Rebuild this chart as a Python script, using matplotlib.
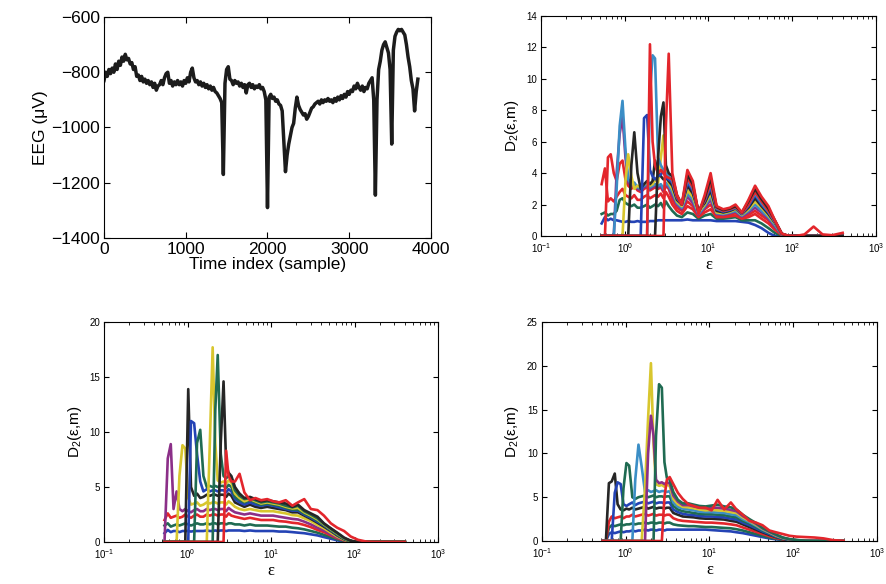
import numpy as np
import matplotlib
matplotlib.use('Agg')
import matplotlib.pyplot as plt
from matplotlib.ticker import LogLocator, MultipleLocator, NullFormatter

plt.rcParams['font.family'] = ['Liberation Sans', 'DejaVu Sans']
plt.rcParams['mathtext.fontset'] = 'custom'
plt.rcParams['mathtext.rm'] = 'Liberation Sans'
plt.rcParams['mathtext.it'] = 'Liberation Sans:italic'

# ---- EEG trace, one value every 20 samples ----
eeg_step = 20
eeg_uv = [-830, -800, -815, -790, -805, -785, -800, -770, -790, -760,
          -775, -745, -760, -735, -755, -750, -770, -765, -790, -780,
          -815, -810, -830, -815, -835, -825, -840, -830, -845, -835,
          -855, -840, -865, -850, -845, -830, -845, -820, -805, -800,
          -840, -830, -850, -835, -845, -830, -845, -835, -850, -830,
          -840, -820, -835, -800, -785, -820, -835, -830, -845, -835,
          -850, -840, -855, -845, -860, -850, -865, -855, -870, -875,
          -885, -895, -910, -1170, -840, -790, -780, -825, -830, -845,
          -830, -840, -835, -850, -840, -855, -845, -875, -845, -840,
          -855, -845, -860, -850, -855, -845, -860, -855, -870, -900,
          -1290, -890, -880, -895, -890, -905, -900, -915, -920, -940,
          -1050, -1160, -1100, -1060, -1030, -1000, -985, -930, -890, -920,
          -935, -945, -955, -950, -970, -960, -945, -930, -925, -915,
          -910, -905, -915, -900, -910, -900, -905, -895, -905, -900,
          -910, -895, -905, -890, -900, -885, -895, -880, -890, -870,
          -880, -865, -870, -850, -860, -840, -855, -865, -850, -870,
          -855, -860, -840, -830, -820, -900, -1245, -900, -790, -760,
          -720, -700, -690, -710, -730, -790, -1060, -720, -670, -655,
          -645, -650, -645, -655, -665, -700, -745, -780, -830, -860,
          -940, -870, -825]

# ---- epsilon grid shared by the three D2 panels ----
eps_grid = [0.53, 0.58, 0.63, 0.68, 0.74, 0.80, 0.87, 0.94, 1.02, 1.1,
            1.2, 1.3, 1.42, 1.55, 1.7, 1.85, 2.0, 2.15, 2.3, 2.5,
            2.7, 2.9, 3.1, 3.35, 3.7, 4.2, 4.8, 5.6, 6.5, 7.6,
            9.0, 10.6, 12.5, 15, 18, 21, 25, 30, 36, 43,
            52, 62, 75, 90, 110, 140, 180, 230, 300, 400]

BLUE, GREEN, RED = '#2443b5', '#1f6b52', '#e3262c'
CYAN, MAGENTA, YELLOW, BLACK = '#3b8ec6', '#8b2f88', '#d8c62e', '#262626'

# panel b (top right)
b_colors = [BLUE, GREEN, RED, RED, MAGENTA, CYAN, YELLOW, BLACK, BLUE, CYAN, RED, BLACK, RED]
b_curves = [
    [0.8, 1.2, 1.0, 1.1, 1.0, 1.0, 0.95, 0.9, 0.9, 0.95, 0.9, 0.9, 0.95, 0.9, 0.9, 0.9, 0.95, 0.95, 0.95, 1.0, 1.0, 1.0, 1.0, 1.0,
     1.0, 1.0, 1.0, 1.05, 1.0, 1.0, 1.0, 1.0, 0.95, 0.95, 0.95, 0.95, 0.9, 0.85, 0.7, 0.5, 0.2, 0, 0, 0, 0, 0, 0, 0, 0, 0],
    [1.4, 1.5, 1.3, 1.4, 1.4, 1.6, 2.3, 2.4, 2.1, 2.0, 1.9, 2.0, 1.8, 1.8, 1.9, 2.0, 1.8, 1.9, 2.0, 1.9, 2.1, 1.8, 2.2, 1.9,
     1.6, 1.3, 1.2, 1.5, 1.4, 1.1, 1.3, 1.4, 1.1, 1.1, 1.15, 1.2, 1.0, 1.0, 1.0, 0.8, 0.5, 0.2, 0, 0, 0, 0, 0, 0, 0, 0],
    [3.3, 4.3, 2.2, 2.4, 2.2, 2.5, 2.8, 3.0, 2.6, 2.5, 2.4, 2.6, 2.3, 2.3, 2.5, 2.6, 2.4, 2.5, 2.6, 2.5, 2.7, 2.4, 2.8, 2.5,
     2.0, 1.6, 1.4, 1.9, 1.7, 1.2, 1.5, 1.7, 1.2, 1.2, 1.25, 1.3, 1.1, 1.2, 1.4, 1.1, 0.8, 0.4, 0.05, 0, 0, 0, 0, 0, 0, 0],
    [0, 0, 5.0, 5.2, 4.0, 3.5, 4.6, 4.8, 3.6, 3.2, 3.0, 3.2, 2.9, 2.8, 3.0, 3.1, 2.9, 3.0, 3.1, 3.0, 3.1, 2.8, 3.2, 3.0,
     2.3, 1.8, 1.6, 2.2, 1.9, 1.3, 1.7, 2.0, 1.3, 1.3, 1.35, 1.45, 1.2, 1.35, 1.6, 1.3, 1.0, 0.5, 0.08, 0, 0, 0, 0, 0, 0, 0],
    [0, 0, 0, 0, 0, 4.0, 6.5, 7.6, 5.0, 3.4, 3.2, 3.3, 3.0, 2.9, 3.1, 3.2, 3.0, 3.1, 3.2, 3.1, 3.2, 2.9, 3.3, 3.1,
     2.6, 2.0, 1.7, 2.5, 2.1, 1.35, 1.8, 2.3, 1.4, 1.35, 1.45, 1.55, 1.25, 1.5, 1.8, 1.5, 1.1, 0.6, 0.1, 0, 0, 0, 0, 0, 0, 0],
    [0, 0, 0, 0, 0, 3.0, 7.0, 8.6, 5.5, 3.6, 3.3, 3.4, 3.1, 3.0, 3.2, 3.3, 3.1, 3.2, 3.3, 3.2, 3.3, 3.0, 3.4, 3.2,
     2.8, 2.1, 1.8, 2.7, 2.3, 1.4, 1.9, 2.5, 1.45, 1.4, 1.5, 1.6, 1.3, 1.6, 2.0, 1.6, 1.2, 0.7, 0.1, 0, 0, 0, 0, 0, 0, 0],
    [0] * 8 + [3.5, 5.2, 3.8, 3.0, 3.2, 3.1, 3.3, 3.4, 3.2, 3.3, 3.6, 3.4, 5.0, 6.4, 4.0, 3.4,
     3.0, 2.2, 1.9, 2.9, 2.5, 1.5, 2.0, 2.7, 1.5, 1.45, 1.55, 1.7, 1.35, 1.7, 2.2, 1.8, 1.3, 0.8, 0.12, 0, 0, 0, 0, 0, 0, 0],
    [0] * 10 + [4.5, 6.6, 4.0, 3.0, 3.3, 3.5, 3.3, 3.5, 4.8, 4.0, 3.8, 3.6, 3.7, 3.5,
     3.2, 2.3, 2.0, 3.2, 2.7, 1.6, 2.1, 2.9, 1.6, 1.5, 1.6, 1.75, 1.4, 1.8, 2.4, 1.9, 1.4, 0.85, 0.13, 0, 0, 0, 0, 0, 0, 0],
    [0] * 14 + [7.5, 7.7, 4.2, 3.8, 3.6, 3.8, 3.9, 4.2, 3.7, 3.6,
     3.4, 2.4, 2.0, 3.4, 2.9, 1.6, 2.2, 3.1, 1.7, 1.55, 1.65, 1.8, 1.4, 1.9, 2.6, 2.0, 1.5, 0.9, 0.13, 0, 0, 0, 0, 0, 0, 0],
    [0] * 16 + [9.0, 11.5, 11.3, 5.0, 4.5, 4.2, 4.0, 3.8,
     3.5, 2.5, 2.0, 3.6, 3.0, 1.5, 2.3, 3.3, 1.75, 1.6, 1.7, 1.8, 1.45, 2.0, 2.7, 2.1, 1.55, 0.9, 0.13, 0, 0, 0, 0, 0, 0, 0],
    [0] * 16 + [12.2, 6.0, 4.5, 4.0, 4.2, 4.0, 3.8, 3.7,
     3.6, 2.5, 2.0, 3.7, 3.1, 1.5, 2.3, 3.4, 1.8, 1.6, 1.7, 1.85, 1.45, 2.0, 2.8, 2.2, 1.6, 0.95, 0.14, 0, 0, 0, 0, 0, 0, 0],
    [0] * 19 + [5.0, 7.6, 8.5, 4.5, 4.0,
     3.8, 2.6, 2.0, 3.9, 3.3, 1.5, 2.4, 3.7, 1.85, 1.65, 1.75, 1.9, 1.5, 2.2, 3.0, 2.35, 1.75, 1.0, 0.15, 0, 0, 0, 0, 0, 0, 0],
    [0] * 22 + [7.0, 11.6,
     4.0, 2.6, 2.0, 4.2, 3.5, 1.4, 2.6, 4.0, 1.9, 1.7, 1.8, 2.0, 1.5, 2.3, 3.2, 2.5, 1.9, 1.0, 0.15, 0.02, 0, 0.1, 0.6, 0.1, 0.05, 0.2],
]

# panel c (bottom left)
c_colors = [BLUE, GREEN, RED, MAGENTA, YELLOW, BLACK, BLUE, GREEN, YELLOW, GREEN, BLACK, RED]
c_curves = [
    [0.8, 1.1, 0.9, 1.0, 1.0, 0.9, 1.0, 1.0, 1.0, 0.95, 1.0, 1.0, 1.0, 1.0, 1.05, 1.0, 1.0, 1.05, 1.0, 1.05, 1.05, 1.0, 1.05, 1.05,
     1.05, 1.05, 1.0, 1.05, 1.0, 1.0, 1.0, 1.0, 0.95, 0.95, 0.9, 0.85, 0.8, 0.7, 0.6, 0.45, 0.3, 0.15, 0.05, 0, 0, 0, 0, 0, 0, 0],
    [1.5, 1.7, 1.4, 1.5, 1.6, 1.5, 1.6, 1.7, 1.6, 1.5, 1.6, 1.7, 1.6, 1.6, 1.7, 1.6, 1.7, 1.7, 1.6, 1.7, 1.7, 1.6, 1.7, 1.7,
     1.6, 1.6, 1.5, 1.6, 1.5, 1.5, 1.5, 1.45, 1.4, 1.4, 1.3, 1.25, 1.15, 1.0, 0.85, 0.65, 0.45, 0.25, 0.1, 0.02, 0, 0, 0, 0, 0, 0],
    [2.0, 2.6, 2.2, 2.3, 2.4, 2.2, 2.3, 2.5, 2.3, 2.2, 2.4, 2.5, 2.3, 2.3, 2.5, 2.4, 2.5, 2.5, 2.4, 2.5, 2.5, 2.3, 2.6, 2.4,
     2.3, 2.2, 2.1, 2.2, 2.1, 2.0, 2.0, 2.0, 1.9, 1.85, 1.75, 1.7, 1.55, 1.35, 1.1, 0.9, 0.6, 0.35, 0.15, 0.03, 0, 0, 0, 0, 0, 0],
    [0, 7.6, 8.9, 3.0, 4.6, 3.0, 2.8, 3.0, 2.8, 2.7, 2.9, 3.0, 2.8, 2.8, 3.0, 2.9, 3.0, 3.0, 2.9, 3.0, 3.0, 2.8, 3.1, 2.9,
     2.7, 2.6, 2.5, 2.6, 2.5, 2.4, 2.4, 2.4, 2.3, 2.2, 2.1, 2.05, 1.85, 1.6, 1.3, 1.05, 0.7, 0.4, 0.18, 0.04, 0, 0, 0, 0, 0, 0],
    [0, 0, 0, 0, 0, 6.0, 8.8, 8.5, 4.0, 3.4, 3.5, 3.6, 3.3, 3.4, 3.6, 3.5, 3.6, 3.6, 3.5, 3.6, 3.6, 3.4, 3.7, 3.5,
     3.2, 3.0, 2.9, 3.0, 2.9, 2.8, 2.8, 2.8, 2.7, 2.6, 2.45, 2.4, 2.15, 1.9, 1.55, 1.25, 0.85, 0.5, 0.2, 0.05, 0, 0, 0, 0, 0, 0],
    [0] * 8 + [13.9, 5.0, 4.2, 4.4, 4.0, 4.1, 4.3, 4.2, 4.3, 4.3, 4.2, 4.3, 4.3, 4.1, 4.4, 4.2,
     3.6, 3.4, 3.2, 3.4, 3.2, 3.1, 3.2, 3.1, 3.0, 2.9, 2.7, 2.7, 2.4, 2.1, 1.75, 1.4, 1.0, 0.6, 0.25, 0.06, 0, 0, 0, 0, 0, 0],
    [0] * 9 + [11.0, 10.8, 8.0, 5.5, 4.6, 4.8, 4.6, 4.7, 4.7, 4.6, 4.7, 4.7, 4.5, 4.8, 4.6,
     3.9, 3.6, 3.4, 3.6, 3.4, 3.3, 3.4, 3.3, 3.15, 3.0, 2.85, 2.85, 2.5, 2.2, 1.85, 1.5, 1.05, 0.65, 0.28, 0.07, 0, 0, 0, 0, 0, 0],
    [0] * 11 + [9.0, 10.2, 6.0, 5.0, 5.1, 5.0, 5.1, 5.0, 5.1, 5.1, 4.9, 5.2, 5.0,
     4.1, 3.8, 3.6, 3.8, 3.6, 3.4, 3.5, 3.4, 3.3, 3.1, 2.95, 2.95, 2.6, 2.3, 1.95, 1.55, 1.1, 0.7, 0.3, 0.08, 0, 0, 0, 0, 0, 0],
    [0] * 15 + [9.0, 17.7, 9.0, 5.6, 5.4, 5.5, 5.3, 5.6, 5.4,
     4.4, 4.0, 3.7, 3.9, 3.7, 3.5, 3.6, 3.5, 3.4, 3.2, 3.05, 3.1, 2.7, 2.4, 2.05, 1.6, 1.15, 0.75, 0.32, 0.09, 0, 0, 0, 0, 0, 0],
    [0] * 17 + [12.0, 17.0, 8.0, 6.0, 5.8, 6.0, 5.8,
     4.7, 4.2, 3.9, 4.0, 3.8, 3.6, 3.7, 3.6, 3.5, 3.3, 3.15, 3.3, 2.8, 2.5, 2.15, 1.65, 1.2, 0.8, 0.35, 0.1, 0, 0, 0, 0, 0, 0],
    [0] * 19 + [9.0, 14.6, 7.0, 6.3, 6.0,
     5.0, 4.4, 4.0, 4.1, 3.9, 3.7, 3.8, 3.7, 3.6, 3.5, 3.2, 3.4, 2.9, 2.6, 2.3, 1.7, 1.25, 0.85, 0.4, 0.12, 0, 0, 0, 0, 0, 0],
    [0] * 21 + [8.3, 6.0, 5.5,
     5.5, 6.2, 4.5, 3.8, 4.0, 3.8, 3.9, 3.7, 3.6, 3.8, 3.3, 3.6, 3.9, 3.0, 2.9, 2.4, 1.7, 1.3, 1.0, 0.5, 0.2, 0.03, 0, 0, 0, 0],
]

# panel d (bottom right)
d_colors = [BLUE, GREEN, RED, BLACK, BLUE, GREEN, CYAN, YELLOW, MAGENTA, GREEN, RED]
d_curves = [
    [0, 0, 0.8, 1.0, 0.9, 1.0, 1.1, 1.0, 1.1, 1.1, 1.2, 1.1, 1.2, 1.2, 1.3, 1.2, 1.3, 1.3, 1.2, 1.3, 1.3, 1.2, 1.3, 1.3,
     1.3, 1.3, 1.3, 1.3, 1.3, 1.3, 1.3, 1.25, 1.2, 1.15, 1.1, 1.0, 0.9, 0.75, 0.6, 0.45, 0.3, 0.2, 0.1, 0.05, 0.02, 0, 0, 0, 0, 0],
    [0, 0, 1.5, 1.8, 1.7, 1.8, 1.9, 1.8, 1.9, 1.9, 2.0, 1.9, 2.0, 2.0, 2.1, 2.0, 2.1, 2.1, 2.0, 2.1, 2.1, 2.0, 2.1, 2.1,
     1.9, 1.8, 1.75, 1.7, 1.7, 1.65, 1.6, 1.6, 1.55, 1.5, 1.45, 1.35, 1.2, 1.0, 0.8, 0.6, 0.4, 0.25, 0.15, 0.08, 0.03, 0, 0, 0, 0, 0],
    [0, 0, 2.2, 2.8, 2.6, 2.7, 2.8, 2.6, 2.8, 2.8, 3.0, 2.8, 2.9, 3.0, 3.1, 2.9, 3.0, 3.1, 2.9, 3.0, 3.0, 2.9, 3.0, 3.0,
     2.6, 2.4, 2.3, 2.25, 2.2, 2.15, 2.1, 2.1, 2.05, 2.0, 1.9, 1.8, 1.55, 1.3, 1.05, 0.8, 0.55, 0.35, 0.2, 0.1, 0.04, 0, 0, 0, 0, 0],
    [0, 0, 6.6, 6.8, 7.7, 4.2, 3.6, 3.5, 3.7, 3.6, 3.8, 3.6, 3.7, 3.8, 3.9, 3.7, 3.8, 3.9, 3.7, 3.8, 3.8, 3.7, 3.8, 3.8,
     3.2, 3.0, 2.8, 2.75, 2.7, 2.6, 2.55, 2.55, 2.5, 2.45, 2.3, 2.2, 1.9, 1.6, 1.3, 1.0, 0.7, 0.45, 0.25, 0.12, 0.05, 0, 0, 0, 0, 0],
    [0, 0, 0, 0, 5.5, 6.7, 6.5, 4.2, 4.0, 4.2, 4.4, 4.1, 4.3, 4.4, 4.5, 4.3, 4.4, 4.5, 4.3, 4.4, 4.4, 4.3, 4.4, 4.4,
     3.6, 3.3, 3.1, 3.0, 2.95, 2.85, 2.8, 2.8, 2.75, 2.7, 2.55, 2.45, 2.1, 1.8, 1.45, 1.1, 0.8, 0.5, 0.28, 0.14, 0.06, 0, 0, 0, 0, 0],
    [0] * 7 + [6.0, 8.9, 8.6, 5.0, 4.8, 5.0, 5.1, 5.2, 5.0, 5.1, 5.2, 5.0, 5.1, 5.1, 5.0, 5.1, 5.1,
     4.0, 3.6, 3.4, 3.3, 3.2, 3.1, 3.05, 3.05, 3.0, 2.95, 2.8, 2.7, 2.3, 2.0, 1.6, 1.2, 0.9, 0.55, 0.3, 0.15, 0.07, 0, 0, 0, 0, 0],
    [0] * 11 + [7.0, 11.0, 8.5, 5.6, 5.8, 5.6, 5.7, 5.8, 5.6, 5.7, 5.7, 5.6, 5.7,
     4.4, 3.9, 3.7, 3.6, 3.5, 3.35, 3.3, 3.3, 3.25, 3.2, 3.05, 2.95, 2.5, 2.15, 1.75, 1.3, 0.95, 0.6, 0.33, 0.17, 0.08, 0, 0, 0, 0, 0],
    [0] * 14 + [6.0, 14.0, 20.3, 11.0, 6.5, 6.3, 6.4, 6.2, 6.4, 6.3,
     4.8, 4.2, 3.9, 3.85, 3.75, 3.6, 3.5, 3.55, 3.5, 3.45, 3.3, 3.2, 2.7, 2.3, 1.85, 1.4, 1.0, 0.65, 0.36, 0.19, 0.09, 0.02, 0, 0, 0, 0],
    [0] * 15 + [10.0, 14.3, 12.0, 7.0, 6.6, 6.7, 6.5, 6.7, 6.6,
     5.2, 4.5, 4.1, 4.1, 3.95, 3.8, 3.75, 3.8, 3.8, 3.7, 3.55, 3.4, 2.85, 2.4, 1.95, 1.45, 1.05, 0.7, 0.38, 0.2, 0.1, 0.03, 0, 0, 0, 0],
    [0] * 18 + [12.0, 17.9, 17.5, 9.0, 7.2, 7.0,
     5.6, 4.7, 4.3, 4.3, 4.15, 4.0, 3.95, 4.05, 4.15, 3.95, 3.85, 3.6, 3.0, 2.5, 2.05, 1.5, 1.1, 0.75, 0.4, 0.22, 0.12, 0.04, 0, 0, 0, 0],
    [0] * 21 + [5.0, 7.0, 7.3,
     6.5, 5.5, 4.8, 4.2, 4.0, 3.8, 3.8, 3.5, 4.7, 3.6, 4.4, 3.6, 3.0, 2.3, 2.1, 1.8, 1.2, 1.0, 0.8, 0.6, 0.5, 0.45, 0.4, 0.3, 0.1, 0.02],
]

fig = plt.figure(figsize=(8.86, 5.84), dpi=100)

# EEG panel
ax = fig.add_axes([0.1174, 0.5925, 0.369, 0.3784])
t = np.arange(len(eeg_uv)) * eeg_step
ax.plot(t, eeg_uv, color='#1c1c1c', lw=2.5)
ax.set_xlim(0, 4000)
ax.set_ylim(-1400, -600)
ax.set_xticks([0, 1000, 2000, 3000, 4000])
ax.set_yticks([-1400, -1200, -1000, -800, -600])
ax.tick_params(direction='in', top=True, right=True, length=4, labelsize=12.5, pad=3)
ax.set_xlabel('Time index (sample)', fontsize=12.5, labelpad=0)
ax.set_ylabel('EEG (\u03bcV)', fontsize=12.5, labelpad=2)


def d2_panel(rect, curves, colors, ymax, ystep):
    ax = fig.add_axes(rect)
    for row, col in zip(curves, colors):
        ax.plot(eps_grid, row, color=col, lw=1.9)
    ax.set_xscale('log')
    ax.set_xlim(0.1, 1000)
    ax.set_ylim(0, ymax)
    ax.set_xticks([0.1, 1, 10, 100, 1000])
    ax.xaxis.set_minor_locator(LogLocator(base=10, subs=[2, 3, 4, 5, 6, 7, 8, 9]))
    ax.xaxis.set_minor_formatter(NullFormatter())
    ax.yaxis.set_major_locator(MultipleLocator(ystep))
    ax.tick_params(which='both', direction='in', top=True, right=True, labelsize=7)
    ax.tick_params(axis='x', pad=4)
    ax.tick_params(axis='y', pad=3)
    ax.tick_params(which='major', length=3.5)
    ax.tick_params(which='minor', length=2)
    ax.set_xlabel('\u03b5', family='Liberation Serif', fontsize=12, labelpad=1)
    ax.set_ylabel('D$_2$(\u03b5,m)', fontsize=11, labelpad=4)
    return ax


d2_panel([0.6106, 0.5959, 0.3781, 0.3767], b_curves, b_colors, 14, 2)
d2_panel([0.1174, 0.0719, 0.377, 0.3767], c_curves, c_colors, 20, 5)
d2_panel([0.6117, 0.0736, 0.3781, 0.375], d_curves, d_colors, 25, 5)

fig.savefig('out.png', dpi=100)
